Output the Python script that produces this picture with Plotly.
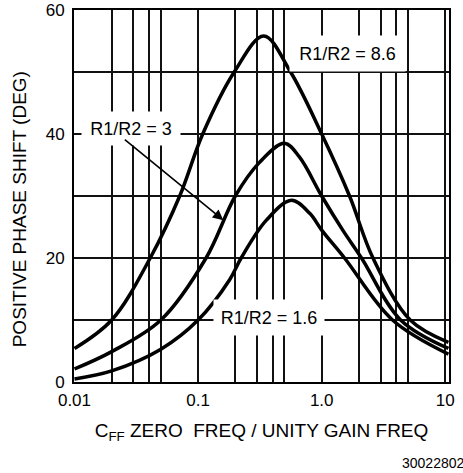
import plotly.graph_objects as go

# ---- data ----
x_tick_vals = [0.01, 0.02, 0.03, 0.04, 0.05, 0.1, 0.2, 0.3, 0.4, 0.5,
               1.0, 2, 3, 4, 5, 10]
x_tick_text = ["0.01", "", "", "", "", "0.1", "", "", "", "",
               "1.0", "", "", "", "", "10"]
y_tick_vals = [0, 10, 20, 30, 40, 50, 60]
y_tick_text = ["0", "", "20", "", "40", "", "60"]

# R1/R2 = 8.6
freq_a = [0.01, 0.02, 0.041, 0.071, 0.109, 0.196, 0.34, 0.56, 1.0, 1.68, 2.6, 5.2, 10.6]
phase_a = [5.4, 10, 20, 30, 40, 50, 55.8, 50, 40, 30, 20, 10, 6.4]

# R1/R2 = 3
freq_b = [0.01, 0.02, 0.05, 0.116, 0.2, 0.31, 0.5, 0.66, 1.0, 1.48, 2.1, 4.35, 10.6]
phase_b = [2.1, 4.9, 10, 20, 30, 35.3, 38.5, 36.3, 30, 24.5, 20, 10, 5.4]

# R1/R2 = 1.6
freq_c = [0.01, 0.02, 0.05, 0.1, 0.18, 0.223, 0.357, 0.57, 0.8, 1.0, 1.53, 3.74, 10.6]
phase_c = [0.5, 1.8, 5.3, 10, 16.5, 20, 26.1, 29.3, 27.2, 24.5, 20, 10, 4.5]

labels = ["R1/R2 = 8.6", "R1/R2 = 3", "R1/R2 = 1.6"]

FONT = "Liberation Sans, Arial, Helvetica, sans-serif"

fig = go.Figure()
for fx, fy, name in [(freq_a, phase_a, labels[0]),
                     (freq_b, phase_b, labels[1]),
                     (freq_c, phase_c, labels[2])]:
    fig.add_trace(go.Scatter(
        x=fx, y=fy, mode="lines", name=name, showlegend=False,
        line=dict(color="black", width=3.5, shape="spline", smoothing=1.0),
        hoverinfo="skip"))

axis_common = dict(
    showgrid=True, gridcolor="#111111", gridwidth=1.5,
    showline=True, linecolor="black", linewidth=2, mirror=True,
    zeroline=False, ticks="", automargin=False,
    tickfont=dict(family=FONT, size=17, color="black"),
)

fig.update_xaxes(
    type="log", range=[-2.004, 1.03],
    tickmode="array", tickvals=x_tick_vals, ticktext=x_tick_text,
    ticklabelstandoff=2,
    title=dict(text="C<sub>FF</sub> ZERO&nbsp; FREQ / UNITY GAIN FREQ",
               font=dict(family=FONT, size=19, color="black"), standoff=14),
    **axis_common)
fig.update_yaxes(
    range=[0, 60],
    tickmode="array", tickvals=y_tick_vals, ticktext=y_tick_text,
    ticklabelstandoff=4,
    title=dict(text="POSITIVE PHASE SHIFT (DEG)" + "&nbsp;" * 5,
               font=dict(family=FONT, size=19, color="black"), standoff=14),
    **axis_common)

ann_font = dict(family=FONT, size=18, color="black")
fig.add_annotation(x=0.209, y=53.0, xref="x", yref="y", text=labels[0],
                   showarrow=False, font=ann_font, bgcolor="white",
                   width=115, height=35, borderpad=0)
fig.add_annotation(x=-1.543, y=40.9, xref="x", yref="y", text=labels[1],
                   showarrow=False, font=ann_font, bgcolor="white",
                   width=98, height=33, borderpad=0)
fig.add_annotation(x=-0.425, y=10.4, xref="x", yref="y", text=labels[2],
                   showarrow=False, font=ann_font, bgcolor="white",
                   width=110, height=35, borderpad=0)
# arrow from the "R1/R2 = 3" label to its curve
fig.add_annotation(x=-0.796, y=26.1, xref="x", yref="y",
                   ax=-1.605, ay=39.3, axref="x", ayref="y",
                   text="", showarrow=True, arrowhead=2, arrowsize=1.3,
                   arrowwidth=1.6, arrowcolor="black")
# figure number
fig.add_annotation(x=1.045, y=0, xref="paper", yref="paper", text="30022802",
                   showarrow=False, xanchor="right", yanchor="bottom",
                   yshift=-90, borderpad=0,
                   font=dict(family=FONT, size=14, color="black"))

fig.update_layout(
    width=463, height=473,
    margin=dict(l=74, r=14, t=10, b=91),
    paper_bgcolor="white", plot_bgcolor="white",
    font=dict(family=FONT, color="black"),
)

fig.write_html("out.html",
               config={"displayModeBar": False},
               post_script="document.body.style.margin='0';")
